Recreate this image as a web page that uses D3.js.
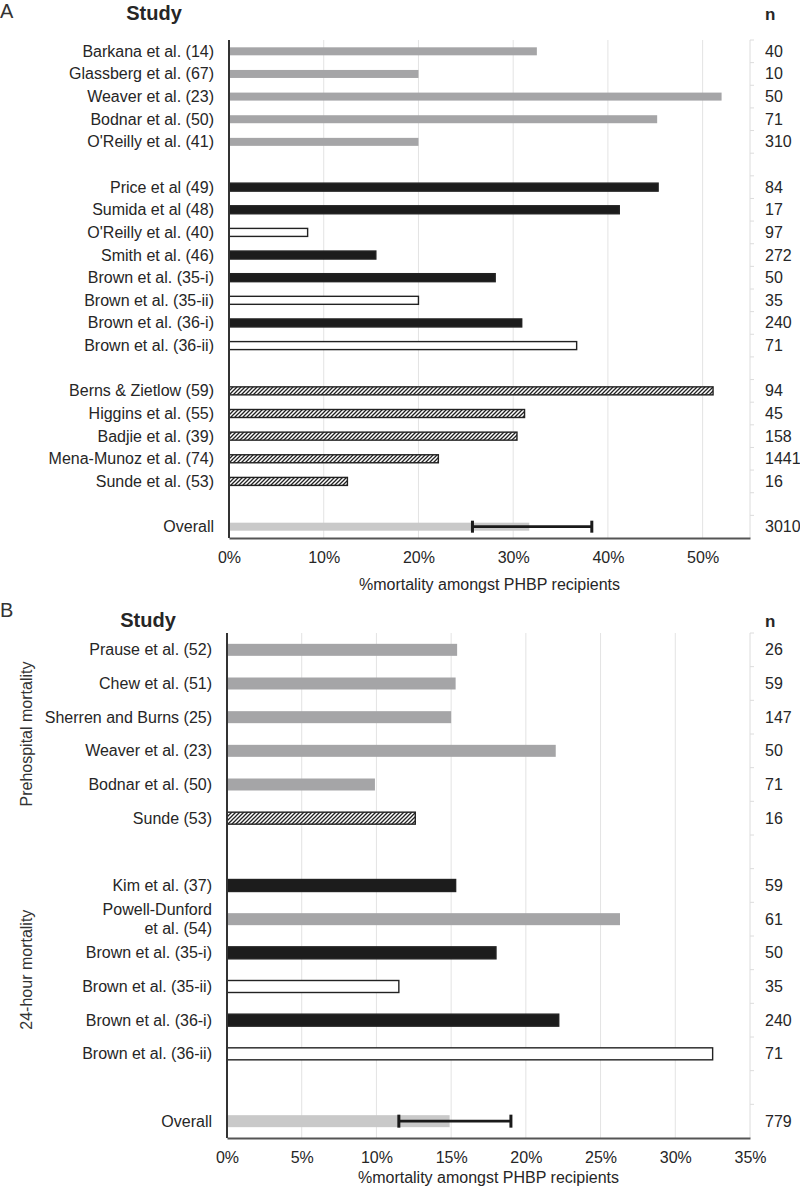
<!DOCTYPE html>
<html>
<head>
<meta charset="utf-8">
<script src="https://cdn.jsdelivr.net/npm/d3@7"></script>
<style>
  body { margin: 0; background: #fff; }
  svg { display: block; font-family: "Liberation Sans", Arial, sans-serif; }
</style>
</head>
<body>
<svg id="chart" width="800" height="1191"></svg>
<script>
// panel A data
const studiesA1 = ["Barkana et al. (14)", "Glassberg et al. (67)", "Weaver et al. (23)", "Bodnar et al. (50)", "O'Reilly et al. (41)"];
const valuesA1 = [32.5, 20.0, 52.0, 45.2, 20.0];
const nA1 = [40, 10, 50, 71, 310];
const typesA1 = ["gray", "gray", "gray", "gray", "gray"];

const studiesA2 = ["Price et al (49)", "Sumida et al (48)", "O'Reilly et al. (40)", "Smith et al. (46)", "Brown et al. (35-i)", "Brown et al. (35-ii)", "Brown et al. (36-i)", "Brown et al. (36-ii)"];
const valuesA2 = [45.3, 41.2, 8.3, 15.5, 28.1, 20.0, 30.9, 36.7];
const nA2 = [84, 17, 97, 272, 50, 35, 240, 71];
const typesA2 = ["black", "black", "white", "black", "black", "white", "black", "white"];

const studiesA3 = ["Berns & Zietlow (59)", "Higgins et al. (55)", "Badjie et al.  (39)", "Mena-Munoz et al. (74)", "Sunde et al. (53)"];
const valuesA3 = [51.1, 31.2, 30.4, 22.1, 12.5];
const nA3 = [94, 45, 158, 1441, 16];
const typesA3 = ["hatch", "hatch", "hatch", "hatch", "hatch"];

const overallA = { value: 31.7, lo: 25.7, hi: 38.3, n: 3010 };
const ticksA = [0, 10, 20, 30, 40, 50];

// panel B data
const studiesB1 = ["Prause et al. (52)", "Chew et al. (51)", "Sherren and Burns (25)", "Weaver et al. (23)", "Bodnar et al. (50)", "Sunde (53)"];
const valuesB1 = [15.4, 15.3, 15.0, 22.0, 9.9, 12.6];
const nB1 = [26, 59, 147, 50, 71, 16];
const typesB1 = ["gray", "gray", "gray", "gray", "gray", "hatch"];

const studiesB2 = ["Kim et al. (37)", "Powell-Dunford|et al. (54)", "Brown et al. (35-i)", "Brown et al. (35-ii)", "Brown et al. (36-i)", "Brown et al. (36-ii)"];
const valuesB2 = [15.3, 26.3, 18.0, 11.5, 22.2, 32.5];
const nB2 = [59, 61, 50, 35, 240, 71];
const typesB2 = ["black", "gray", "black", "white", "black", "white"];

const overallB = { value: 14.9, lo: 11.5, hi: 19.0, n: 779 };
const ticksB = [0, 5, 10, 15, 20, 25, 30, 35];
const groupLabelsB = ["Prehospital mortality", "24-hour mortality"];

const svg = d3.select('#chart');
const textColor = '#262626';

const defs = svg.append('defs');
const pat = defs.append('pattern')
  .attr('id', 'hatch')
  .attr('patternUnits', 'userSpaceOnUse')
  .attr('width', 4)
  .attr('height', 4);
pat.append('rect').attr('width', 4).attr('height', 4).attr('fill', '#fff');
pat.append('path')
  .attr('d', 'M-1,1 l2,-2 M0,4 l4,-4 M3,5 l2,-2')
  .attr('stroke', '#222')
  .attr('stroke-width', 1.3);

function makeRows(groups) {
  const rows = [];
  groups.forEach((g, gi) => {
    if (gi > 0) rows.push({ key: 'gap' + gi, gap: true });
    g.names.forEach((name, i) => {
      rows.push({ key: g.id + i, name: name, value: g.values[i], n: g.n[i], type: g.types[i] });
    });
  });
  return rows;
}

function drawPanel(opt) {
  const rows = makeRows(opt.groups);
  rows.push({ key: 'gapO', gap: true });
  rows.push({ key: 'overall', name: 'Overall', value: opt.overall.value, n: opt.overall.n, type: 'overall', lo: opt.overall.lo, hi: opt.overall.hi });

  const x = d3.scaleLinear().domain([0, opt.max]).range([opt.left, opt.right]);
  const y = d3.scaleBand().domain(rows.map((d) => d.key)).range([opt.top, opt.bottom]);
  const g = svg.append('g');

  // grid lines
  g.selectAll('.grid')
    .data(opt.ticks.filter((t) => t > 0 && t < opt.max))
    .enter().append('line')
    .attr('x1', (d) => x(d)).attr('x2', (d) => x(d))
    .attr('y1', opt.top).attr('y2', opt.bottom)
    .attr('stroke', '#e3e3e3').attr('stroke-width', 1);

  // right axis with n values
  g.append('line')
    .attr('x1', x(opt.max)).attr('x2', x(opt.max))
    .attr('y1', opt.top).attr('y2', opt.bottom)
    .attr('stroke', '#dcdcdc');
  const bounds = rows.map((d) => y(d.key));
  g.selectAll('.rtick')
    .data(bounds)
    .enter().append('line')
    .attr('x1', x(opt.max)).attr('x2', x(opt.max) + 4)
    .attr('y1', (d) => d).attr('y2', (d) => d)
    .attr('stroke', '#dcdcdc');

  const real = rows.filter((d) => !d.gap);
  const bh = opt.barH;

  // bars
  g.selectAll('.bar')
    .data(real)
    .enter().append('rect')
    .attr('x', x(0))
    .attr('y', (d) => y(d.key) + y.bandwidth() / 2 - bh / 2)
    .attr('width', (d) => x(d.value) - x(0))
    .attr('height', bh)
    .attr('fill', (d) => ({ gray: '#a5a5a7', black: '#1c1c1c', white: '#fff', hatch: 'url(#hatch)', overall: '#c9c9c9' })[d.type])
    .attr('stroke', (d) => (d.type === 'white' || d.type === 'hatch' || d.type === 'black') ? '#222' : 'none')
    .attr('stroke-width', 1.4);

  // error bar on overall
  const o = real.find((d) => d.type === 'overall');
  const oy = y(o.key) + y.bandwidth() / 2;
  const cap = opt.capH;
  g.append('line')
    .attr('x1', x(o.lo)).attr('x2', x(o.hi))
    .attr('y1', oy).attr('y2', oy)
    .attr('stroke', '#1a1a1a').attr('stroke-width', 2.8);
  g.selectAll('.cap')
    .data([o.lo, o.hi])
    .enter().append('line')
    .attr('x1', (d) => x(d)).attr('x2', (d) => x(d))
    .attr('y1', oy - cap / 2).attr('y2', oy + cap / 2)
    .attr('stroke', '#1a1a1a').attr('stroke-width', 3);

  // left axis line
  g.append('line')
    .attr('x1', x(0)).attr('x2', x(0))
    .attr('y1', opt.top).attr('y2', opt.bottom)
    .attr('stroke', '#333').attr('stroke-width', 2);

  // bottom axis
  const xAxis = g.append('g')
    .attr('transform', `translate(0, ${opt.bottom})`)
    .call(d3.axisBottom(x).tickValues(opt.ticks).tickFormat((d) => d + '%').tickSize(0).tickPadding(14));
  xAxis.select('.domain').attr('stroke', '#555').attr('stroke-width', 2);
  xAxis.selectAll('text')
    .attr('font-size', 16)
    .attr('font-family', '"Liberation Sans", Arial, sans-serif')
    .attr('fill', textColor);

  g.append('text')
    .attr('x', (opt.left + opt.right) / 2)
    .attr('y', opt.bottom + opt.titleGap)
    .attr('text-anchor', 'middle')
    .attr('font-size', 16)
    .attr('fill', textColor)
    .text('%mortality amongst PHBP recipients');

  // study labels
  real.forEach((d) => {
    const parts = d.name.split('|');
    const cy = y(d.key) + y.bandwidth() / 2;
    const t = g.append('text')
      .attr('x', x(0) - 15)
      .attr('text-anchor', 'end')
      .attr('font-size', 16)
      .attr('fill', textColor);
    parts.forEach((p, i) => {
      t.append('tspan')
        .attr('x', x(0) - 15)
        .attr('y', cy + 5.5 + (i - (parts.length - 1) / 2) * 19)
        .text(p);
    });
  });

  // n labels
  g.selectAll('.nlab')
    .data(real)
    .enter().append('text')
    .attr('x', x(opt.max) + 15)
    .attr('y', (d) => y(d.key) + y.bandwidth() / 2 + 5.5)
    .attr('font-size', 16)
    .attr('fill', textColor)
    .text((d) => d.n);

  // headers
  g.append('text')
    .attr('x', 0).attr('y', opt.letterY)
    .attr('font-size', 20).attr('fill', '#333')
    .text(opt.letter);
  g.append('text')
    .attr('x', opt.studyX).attr('y', opt.headY)
    .attr('text-anchor', 'middle')
    .attr('font-size', 20).attr('font-weight', 'bold').attr('fill', textColor)
    .text('Study');
  g.append('text')
    .attr('x', x(opt.max) + 15).attr('y', opt.headY)
    .attr('font-size', 17).attr('font-weight', 'bold').attr('fill', textColor)
    .text('n');

  return { y: y, rows: rows, g: g };
}

drawPanel({
  letter: 'A', letterY: 18, headY: 20, studyX: 154,
  left: 229, right: 750, max: 55, top: 40, bottom: 538, titleGap: 52,
  ticks: ticksA, barH: 8, capH: 12,
  overall: overallA,
  groups: [
    { id: 'a1', names: studiesA1, values: valuesA1, n: nA1, types: typesA1 },
    { id: 'a2', names: studiesA2, values: valuesA2, n: nA2, types: typesA2 },
    { id: 'a3', names: studiesA3, values: valuesA3, n: nA3, types: typesA3 }
  ]
});

const pB = drawPanel({
  letter: 'B', letterY: 617, headY: 627, studyX: 148,
  left: 227, right: 750, max: 35, top: 633, bottom: 1138, titleGap: 45,
  ticks: ticksB, barH: 12, capH: 13,
  overall: overallB,
  groups: [
    { id: 'b1', names: studiesB1, values: valuesB1, n: nB1, types: typesB1 },
    { id: 'b2', names: studiesB2, values: valuesB2, n: nB2, types: typesB2 }
  ]
});

// rotated group labels in panel B
[['b10', 'b15'], ['b20', 'b25']].forEach((pair, i) => {
  const cy = (pB.y(pair[0]) + pB.y(pair[1]) + pB.y.bandwidth()) / 2;
  pB.g.append('text')
    .attr('transform', `translate(32, ${cy}) rotate(-90)`)
    .attr('text-anchor', 'middle')
    .attr('font-size', 16)
    .attr('fill', '#333')
    .text(groupLabelsB[i]);
});
</script>
</body>
</html>
